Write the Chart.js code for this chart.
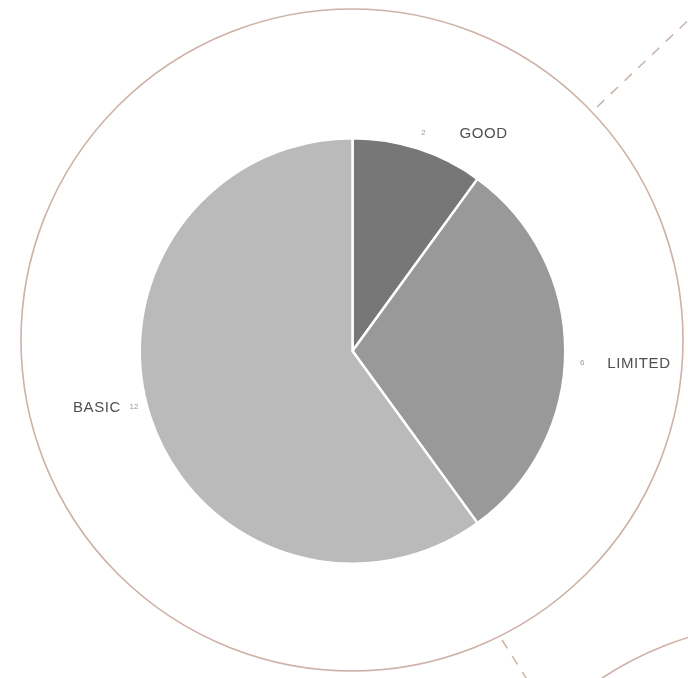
<!DOCTYPE html>
<html>
<head>
<meta charset="utf-8">
<script src="https://cdn.jsdelivr.net/npm/chart.js@4/dist/chart.umd.min.js"></script>
<style>
  html, body { margin: 0; padding: 0; background: #fff; }
  canvas { display: block; }
</style>
</head>
<body>
<canvas id="levels" width="688" height="678"></canvas>
<script>
const categories = ['GOOD', 'LIMITED', 'BASIC'];
const counts = [2, 6, 12];
const sliceColors = ['#777777', '#999999', '#bababa'];

// rings and dashed connectors behind the pie
const backdrop = {
    id: 'backdrop',
    beforeDraw(chart) {
        const ctx = chart.ctx;
        ctx.save();
        ctx.strokeStyle = '#cdb1a7';
        ctx.lineWidth = 1.6;
        ctx.beginPath();
        ctx.arc(352, 340, 331, 0, Math.PI * 2);
        ctx.stroke();
        ctx.beginPath();
        ctx.arc(785, 954, 331, 0, Math.PI * 2);
        ctx.stroke();

        ctx.strokeStyle = '#c9b2a8';
        ctx.lineWidth = 1.5;
        ctx.setLineDash([10, 9]);
        ctx.beginPath();
        ctx.moveTo(597, 107);
        ctx.lineTo(700, 9);
        ctx.stroke();
        ctx.beginPath();
        ctx.moveTo(502, 640);
        ctx.lineTo(530, 684);
        ctx.stroke();
        ctx.restore();
    }
};

// hand-tuned spacing of each label pair: gap between value and name, vertical shift
const labelGap = [36, 25, 13];
const labelShift = [0, 12, -15];

// value next to each slice, category name beside it
const sliceLabels = {
    id: 'sliceLabels',
    afterDatasetsDraw(chart) {
        const ctx = chart.ctx;
        const meta = chart.getDatasetMeta(0);
        ctx.save();
        ctx.textBaseline = 'middle';
        meta.data.forEach((arc, i) => {
            const p = arc.getProps(['x', 'y', 'startAngle', 'endAngle', 'outerRadius'], true);
            const mid = (p.startAngle + p.endAngle) / 2;
            const r = p.outerRadius * 1.08;
            const nx = p.x + Math.cos(mid) * r;
            const ny = p.y + Math.sin(mid) * r + labelShift[i];
            ctx.fillStyle = '#999999';
            ctx.font = '8px "Liberation Sans", Arial, sans-serif';
            ctx.textAlign = 'center';
            ctx.fillText(String(counts[i]), nx, ny);

            ctx.fillStyle = '#505050';
            ctx.font = '15px "Liberation Sans", Arial, sans-serif';
            ctx.letterSpacing = '0.6px';
            if (Math.cos(mid) >= 0) {
                ctx.textAlign = 'left';
                ctx.fillText(categories[i], nx + labelGap[i], ny + 1);
            } else {
                ctx.textAlign = 'right';
                ctx.fillText(categories[i], nx - labelGap[i], ny + 1);
            }
            ctx.letterSpacing = '0px';
        });
        ctx.restore();
    }
};

new Chart(document.getElementById('levels'), {
    type: 'pie',
    data: {
        labels: categories,
        datasets: [{
            data: counts,
            backgroundColor: sliceColors,
            borderColor: '#ffffff',
            borderWidth: 2.5
        }]
    },
    options: {
        responsive: false,
        animation: false,
        layout: { padding: { left: 138, right: 121, top: 137, bottom: 113 } },
        plugins: {
            legend: { display: false },
            tooltip: { enabled: false }
        }
    },
    plugins: [backdrop, sliceLabels]
});
</script>
</body>
</html>
